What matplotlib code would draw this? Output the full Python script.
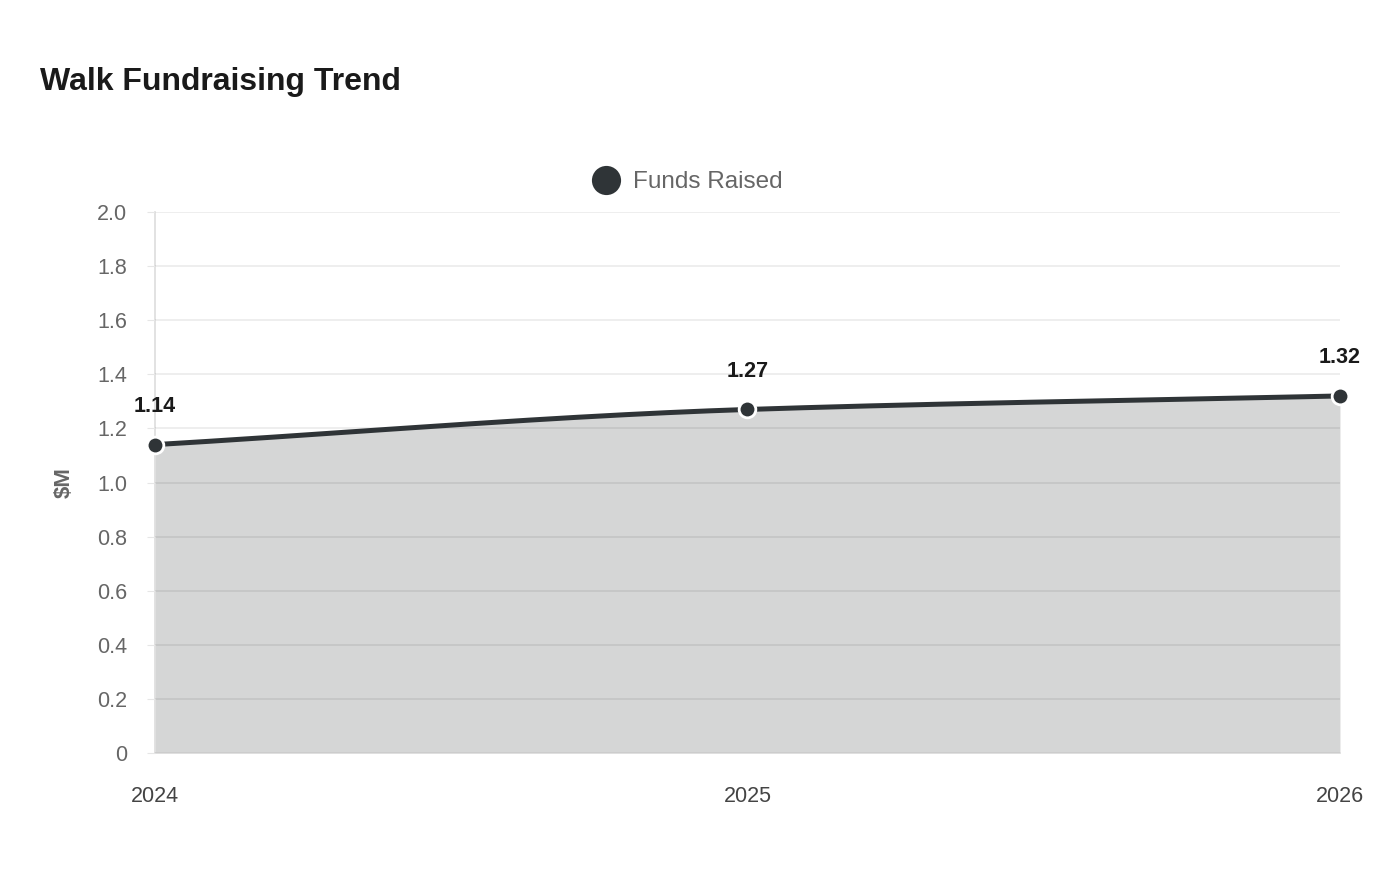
import numpy as np
import matplotlib

matplotlib.use("Agg")
import matplotlib.pyplot as plt

plt.rcParams["font.family"] = ["Liberation Sans", "DejaVu Sans"]

years = ["2024", "2025", "2026"]
funds = [1.14, 1.27, 1.32]
y_ticks = [0, 0.2, 0.4, 0.6, 0.8, 1.0, 1.2, 1.4, 1.6, 1.8, 2.0]
y_tick_labels = ["0", "0.2", "0.4", "0.6", "0.8", "1.0", "1.2", "1.4", "1.6", "1.8", "2.0"]

LINE = "#2f3437"


def monotone_curve(x, y, n=200):
    # Fritsch-Carlson monotone cubic, used only to draw the smoothed line
    x = np.asarray(x, float)
    y = np.asarray(y, float)
    h = np.diff(x)
    d = np.diff(y) / h
    m = np.zeros_like(y)
    m[0], m[-1] = d[0], d[-1]
    for i in range(1, len(y) - 1):
        if d[i - 1] * d[i] <= 0:
            m[i] = 0
        else:
            w1 = 2 * h[i] + h[i - 1]
            w2 = h[i] + 2 * h[i - 1]
            m[i] = (w1 + w2) / (w1 / d[i - 1] + w2 / d[i])
    xs = np.linspace(x[0], x[-1], n)
    idx = np.clip(np.searchsorted(x, xs) - 1, 0, len(x) - 2)
    t = (xs - x[idx]) / h[idx]
    h00 = 2 * t**3 - 3 * t**2 + 1
    h10 = t**3 - 2 * t**2 + t
    h01 = -2 * t**3 + 3 * t**2
    h11 = t**3 - t**2
    ys = h00 * y[idx] + h10 * h[idx] * m[idx] + h01 * y[idx + 1] + h11 * h[idx] * m[idx + 1]
    return xs, ys


fig = plt.figure(figsize=(14, 8.8), dpi=100)
ax = fig.add_axes([0.1107, 0.1443, 0.8464, 0.6148])

x = np.arange(len(years))
xs, ys = monotone_curve(x, funds)

ax.fill_between(xs, 0, ys, color="#d5d6d6", linewidth=0, zorder=1)
ax.plot(xs, ys, color=LINE, linewidth=3.6, zorder=3, solid_capstyle="round", clip_on=False)
ax.plot(x, funds, "o", color=LINE, markersize=12, markeredgecolor="white",
        markeredgewidth=2, zorder=4, label="Funds Raised", clip_on=False)

for xi, v in zip(x, funds):
    ax.annotate(f"{v:.2f}", (xi, v), xytext=(0, 20), textcoords="offset points",
                ha="center", va="bottom", fontsize=15.5, fontweight="bold", color="#1a1a1a")

ax.set_xlim(0, len(years) - 1)
ax.set_ylim(0, 2.0)
ax.set_yticks(y_ticks)
ax.set_yticklabels(y_tick_labels)
ax.set_xticks(x)
ax.set_xticklabels(years)

ax.grid(axis="y", color="black", alpha=0.08, linewidth=1.2, zorder=2)
ax.set_axisbelow(False)
ax.tick_params(axis="y", length=6, color="#e6e6e6", labelsize=15.5, labelcolor="#666666", pad=14)
ax.tick_params(axis="x", length=0, labelsize=15.5, labelcolor="#444444", pad=24)
for s in ["top", "right"]:
    ax.spines[s].set_visible(False)
ax.spines["left"].set_color("#dddddd")
ax.spines["bottom"].set_color("#dddddd")
ax.spines["left"].set_linewidth(1.2)
ax.spines["bottom"].set_linewidth(1.2)

ax.set_ylabel("$M", fontsize=16, fontweight="bold", color="#666666", labelpad=16)

fig.text(0.0286, 0.907, "Walk Fundraising Trend", fontsize=23, fontweight="bold",
         color="#1a1a1a", ha="left", va="center")

leg = fig.legend(loc="center", bbox_to_anchor=(0.4875, 0.793), frameon=False,
                 fontsize=17.5, handletextpad=0.1, markerscale=1.75)
for t in leg.get_texts():
    t.set_color("#666666")
for h in leg.legend_handles:
    h.set_markeredgewidth(0)

fig.savefig("out.png", dpi=100)
